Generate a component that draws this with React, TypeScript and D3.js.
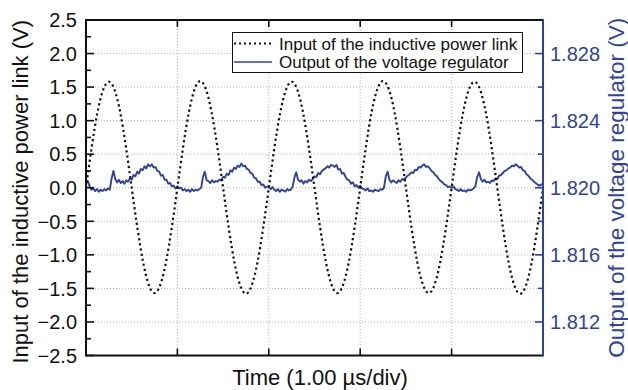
import React from "react";
import * as d3 from "d3";

// Time axis: divisions of 1.00 µs
const timeTicks = [0, 1, 2, 3, 4, 5];
const leftTicks = [-2.5, -2.0, -1.5, -1.0, -0.5, 0.0, 0.5, 1.0, 1.5, 2.0, 2.5];
const leftMinorTicks = [-2.25, -1.75, -1.25, -0.75, -0.25, 0.25, 0.75, 1.25, 1.75, 2.25];
const rightTicks = [1.812, 1.816, 1.82, 1.824, 1.828];
const rightMinorTicks = [1.814, 1.818, 1.822, 1.826];

// Input of the inductive power link (V), sampled every 1/8 µs
const inputStep = 0.125;
const inputValues = [
  0, 1.12, 1.58, 1.12, 0, -1.11, -1.57, -1.11,
  0, 1.12, 1.59, 1.12, 0, -1.12, -1.58, -1.12,
  0, 1.12, 1.58, 1.12, 0, -1.11, -1.57, -1.11,
  0, 1.13, 1.59, 1.13, 0, -1.11, -1.57, -1.11,
  0, 1.12, 1.58, 1.12, 0, -1.12, -1.58, -1.12,
  0,
];

// Output of the voltage regulator: deviation from 1.820 V in mV, sampled every 0.02 µs
const outputNominal = 1.82;
const outputStep = 0.02;
const outputDevMv = [
  0.24, 0.40, 0.08, -0.12, -0.04, -0.20, -0.08, -0.24, -0.12, -0.20, -0.08, -0.16, -0.04, -0.12, 0.56, 1.00, 0.52, 0.32, 0.48, 0.28, 0.40, 0.24, 0.44, 0.36, 0.56, 0.48, 0.76, 0.68, 0.96, 0.84, 1.12, 1.04, 1.28, 1.16, 1.40, 1.28, 1.40, 1.20, 1.24, 1.00, 0.96, 0.72, 0.76, 0.48, 0.48, 0.24, 0.28, 0.08, 0.12, -0.04,
  0.08, -0.04, 0.00, -0.16, -0.08, -0.20, -0.12, -0.24, -0.08, -0.20, -0.12, -0.16, -0.08, 0.00, 0.64, 0.96, 0.44, 0.40, 0.28, 0.44, 0.32, 0.40, 0.36, 0.48, 0.44, 0.64, 0.60, 0.84, 0.76, 1.04, 0.96, 1.20, 1.12, 1.32, 1.24, 1.44, 1.28, 1.32, 1.12, 1.08, 0.88, 0.84, 0.60, 0.56, 0.36, 0.36, 0.16, 0.20, 0.00, 0.08,
  0.04, -0.08, 0.04, -0.12, -0.20, -0.08, -0.24, -0.12, -0.16, -0.24, -0.08, -0.16, -0.12, 0.04, 0.60, 0.92, 0.48, 0.36, 0.44, 0.24, 0.40, 0.32, 0.48, 0.40, 0.52, 0.68, 0.64, 0.88, 0.80, 1.00, 1.08, 1.16, 1.28, 1.20, 1.36, 1.32, 1.24, 1.36, 1.08, 1.12, 0.84, 0.88, 0.64, 0.48, 0.44, 0.24, 0.32, 0.08, 0.16, 0.00,
  0.12, -0.04, -0.08, -0.16, -0.04, -0.20, -0.16, -0.24, -0.12, -0.16, -0.20, -0.08, -0.12, 0.00, 0.68, 0.96, 0.48, 0.32, 0.44, 0.36, 0.28, 0.44, 0.36, 0.52, 0.48, 0.60, 0.72, 0.80, 0.92, 0.88, 1.08, 1.04, 1.24, 1.20, 1.32, 1.40, 1.24, 1.28, 1.16, 1.00, 0.92, 0.76, 0.68, 0.52, 0.40, 0.32, 0.20, 0.16, 0.04, 0.08,
  0.00, 0.08, -0.08, -0.12, -0.20, -0.08, -0.20, -0.16, -0.24, -0.12, -0.16, -0.12, -0.04, 0.08, 0.64, 0.92, 0.52, 0.36, 0.48, 0.32, 0.36, 0.28, 0.44, 0.40, 0.56, 0.52, 0.72, 0.76, 0.88, 1.00, 1.04, 1.16, 1.20, 1.32, 1.28, 1.40, 1.32, 1.20, 1.24, 1.04, 1.00, 0.80, 0.72, 0.56, 0.48, 0.36, 0.28, 0.20, 0.12, 0.20,
  0.16,
];

const legendLabels = ["Input of the inductive power link", "Output of the voltage regulator"];

const BLUE = "#2f42a0";
const FONT = "'Liberation Sans', Arial, Helvetica, sans-serif";

export default function App() {
  const W = 628, H = 390;
  const left = 86, right = 543, top = 20, bottom = 355.5;
  const x = d3.scaleLinear().domain([0, 5]).range([left, right]);
  const yL = d3.scaleLinear().domain([-2.5, 2.5]).range([bottom, top]);
  const yR = d3.scaleLinear().domain([1.81, 1.83]).range([bottom, top]);

  const inputData = inputValues.map((v, i) => [i * inputStep, v] as [number, number]);
  const outputData = outputDevMv.map((v, i) => [i * outputStep, outputNominal + v / 1000] as [number, number]);

  const inputLine = d3.line<[number, number]>().x(d => x(d[0])).y(d => yL(d[1])).curve(d3.curveNatural)(inputData) || "";
  const outputLine = d3.line<[number, number]>().x(d => x(d[0])).y(d => yR(d[1]))(outputData) || "";

  const gridX = timeTicks.filter(t => t > 0 && t < 5);
  const gridY = leftTicks.filter(t => t > -2.5 && t < 2.5);

  return (
    <svg width={W} height={H} style={{ position: "absolute", left: 0, top: 0, background: "#fff" }} fontFamily={FONT}>
      <rect x={0} y={0} width={W} height={H} fill="#fff" />
      {/* grid */}
      {gridX.map(t => (
        <line key={"gx" + t} x1={x(t)} x2={x(t)} y1={top} y2={bottom} stroke="#b8b8b8" strokeWidth={1} strokeDasharray="1,2" />
      ))}
      {gridY.map(v => (
        <line key={"gy" + v} x1={left} x2={right} y1={yL(v)} y2={yL(v)} stroke="#b8b8b8" strokeWidth={1} strokeDasharray="1,2" />
      ))}

      {/* data */}
      <path d={outputLine} fill="none" stroke={BLUE} strokeWidth={1.9} strokeLinejoin="round" />
      <path d={inputLine} fill="none" stroke="#111" strokeWidth={2.2} strokeDasharray="2.2,3" />

      {/* ticks: left */}
      {leftTicks.map(v => (
        <line key={"lt" + v} x1={left} x2={left + 8} y1={yL(v)} y2={yL(v)} stroke="#111" strokeWidth={1.6} />
      ))}
      {leftMinorTicks.map(v => (
        <line key={"lm" + v} x1={left} x2={left + 5} y1={yL(v)} y2={yL(v)} stroke="#111" strokeWidth={1.6} />
      ))}
      {/* ticks: bottom & top */}
      {gridX.map(t => (
        <g key={"bt" + t}>
          <line x1={x(t)} x2={x(t)} y1={bottom} y2={bottom - 7} stroke="#111" strokeWidth={1.6} />
          <line x1={x(t)} x2={x(t)} y1={top} y2={top + 7} stroke="#111" strokeWidth={1.6} />
        </g>
      ))}
      {/* ticks: right */}
      {rightTicks.map(v => (
        <line key={"rt" + v} x1={right} x2={right - 8} y1={yR(v)} y2={yR(v)} stroke={BLUE} strokeWidth={1.6} />
      ))}
      {rightMinorTicks.map(v => (
        <line key={"rm" + v} x1={right} x2={right - 5} y1={yR(v)} y2={yR(v)} stroke={BLUE} strokeWidth={1.6} />
      ))}

      {/* axis frame */}
      <line x1={left} x2={right} y1={top} y2={top} stroke="#111" strokeWidth={2} />
      <line x1={left} x2={right} y1={bottom} y2={bottom} stroke="#111" strokeWidth={2} />
      <line x1={left} x2={left} y1={top - 1} y2={bottom + 1} stroke="#111" strokeWidth={2} />
      <line x1={right} x2={right} y1={top - 1} y2={bottom + 1} stroke={BLUE} strokeWidth={2} />

      {/* tick labels */}
      {leftTicks.map(v => (
        <text key={"ll" + v} x={left - 9} y={yL(v)} dy="0.36em" textAnchor="end" fontSize={20} fill="#111">
          {d3.format(".1f")(v)}
        </text>
      ))}
      {rightTicks.map(v => (
        <text key={"rl" + v} x={right + 7} y={yR(v)} dy="0.36em" textAnchor="start" fontSize={20} fill={BLUE}>
          {d3.format(".3f")(v)}
        </text>
      ))}

      {/* axis titles */}
      <text x={320} y={385} textAnchor="middle" fontSize={22} fill="#111">Time (1.00 µs/div)</text>
      <text transform={`translate(28,${(top + bottom) / 2 + 4}) rotate(-90)`} textAnchor="middle" fontSize={22} fill="#111">
        Input of the inductive power link (V)
      </text>
      <text transform={`translate(624,${(top + bottom) / 2}) rotate(-90)`} textAnchor="middle" fontSize={22.5} fill={BLUE}>
        Output of the voltage regulator (V)
      </text>

      {/* legend */}
      <rect x={232.5} y={32.5} width={290} height={40} fill="#fff" stroke="#111" strokeWidth={1} />
      <line x1={234} x2={272} y1={43.5} y2={43.5} stroke="#111" strokeWidth={2} strokeDasharray="2,3" />
      <text x={279} y={49.5} fontSize={17} fill="#111">{legendLabels[0]}</text>
      <line x1={234} x2={272} y1={62} y2={62} stroke={BLUE} strokeWidth={1.5} />
      <text x={279} y={68} fontSize={17} fill="#111">{legendLabels[1]}</text>
    </svg>
  );
}
